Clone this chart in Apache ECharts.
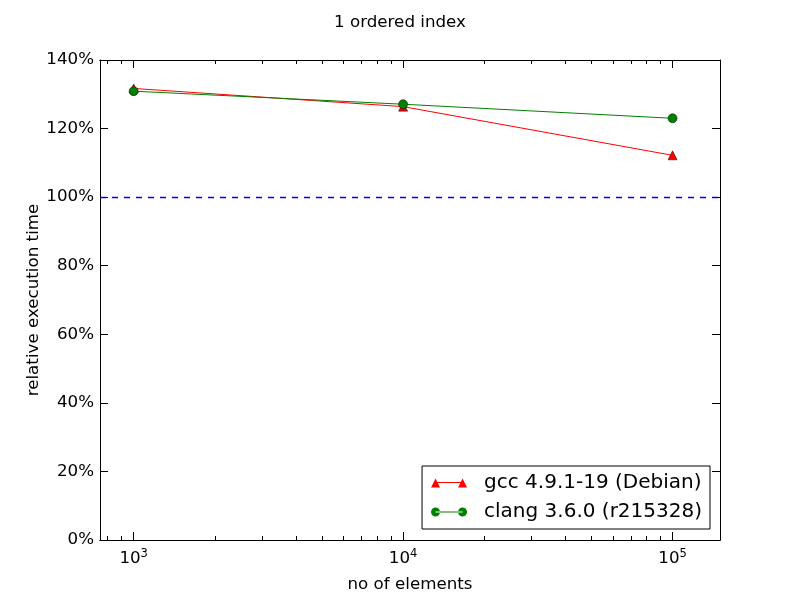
<!DOCTYPE html>
<html><head><meta charset="utf-8">
<script src="https://cdn.jsdelivr.net/npm/echarts@6/dist/echarts.min.js"></script>
<style>html,body{margin:0;padding:0;background:#fff}#c{width:800px;height:600px}</style>
</head><body><div id="c"></div>
<script>
const titleText = '1 ordered index';
const xValues = [1000, 10000, 100000];
const gccValues = [131.7, 126.4, 112.2];
const clangValues = [130.9, 127.1, 123.0];
const seriesNames = ['gcc 4.9.1-19 (Debian)', 'clang 3.6.0 (r215328)'];
const majorXTicks = [1000, 10000, 100000];
const minorXTicks = [800, 900, 2000, 3000, 4000, 5000, 6000, 7000, 8000, 9000,
  20000, 30000, 40000, 50000, 60000, 70000, 80000, 90000];
const yTickValues = [0, 20, 40, 60, 80, 100, 120, 140];
const baseline = 100;

const font = 'DejaVu Sans';
const fs = 16.7;
const xMin = 750, xMax = 150000;

function supLabel(v) {
  const e = Math.round(Math.log10(v));
  return '{b|10}{s|' + e + '}';
}
const xAxisCommon = {
  type: 'log', logBase: 10, min: xMin, max: xMax,
  splitLine: {show: false},
  axisLine: {show: true, onZero: false, lineStyle: {color: '#000', width: 1}},
  minorTick: {show: false}
};
const option = {
  animation: false,
  backgroundColor: '#fff',
  title: {text: titleText, left: 'center', top: 9,
    textStyle: {fontFamily: font, fontSize: fs, fontWeight: 'normal', color: '#000'}},
  grid: {left: 100, right: 80, top: 60, bottom: 60},
  legend: {
    right: 90, bottom: 71, orient: 'vertical',
    backgroundColor: '#fff', borderColor: '#000', borderWidth: 1,
    padding: [7, 8, 7, 9], itemGap: 9, itemWidth: 36, itemHeight: 10,
    itemStyle: {borderWidth: 0},
    textStyle: {fontFamily: font, fontSize: 20, color: '#000', padding: [0, 0, 0, 12]},
    data: [
      {name: seriesNames[0], icon: 'path://M0,10 L4.5,1 L9,10 Z M4.5,4.6 H31.5 V5.6 H4.5 Z M27,10 L31.5,1 L36,10 Z'},
      {name: seriesNames[1], icon: 'path://M0,5 A4.5,4.5 0 1 0 9,5 A4.5,4.5 0 1 0 0,5 Z M4.5,4.5 H31.5 V5.5 H4.5 Z M27,5 A4.5,4.5 0 1 0 36,5 A4.5,4.5 0 1 0 27,5 Z'}
    ]
  },
  xAxis: [
    Object.assign({}, xAxisCommon, {
      position: 'bottom', name: 'no of elements', nameLocation: 'middle', nameGap: 36,
      nameTextStyle: {fontFamily: font, fontSize: fs, color: '#000'},
      axisTick: {show: true, inside: true, length: 8, customValues: majorXTicks, lineStyle: {color: '#000'}},
      axisLabel: {show: true, customValues: majorXTicks, margin: 8, formatter: supLabel,
        rich: {b: {fontFamily: font, fontSize: fs, color: '#000'},
               s: {fontFamily: font, fontSize: 11.5, color: '#000', padding: [0, 0, 9, 0]}}}
    }),
    Object.assign({}, xAxisCommon, {
      position: 'bottom', axisLabel: {show: false},
      axisTick: {show: true, inside: true, length: 4, customValues: minorXTicks, lineStyle: {color: '#000'}}
    }),
    Object.assign({}, xAxisCommon, {
      position: 'top', axisLabel: {show: false},
      axisTick: {show: true, inside: true, length: 8, customValues: majorXTicks, lineStyle: {color: '#000'}}
    }),
    Object.assign({}, xAxisCommon, {
      position: 'top', axisLabel: {show: false},
      axisTick: {show: true, inside: true, length: 4, customValues: minorXTicks, lineStyle: {color: '#000'}}
    })
  ],
  yAxis: [
    {type: 'value', min: 0, max: 140, interval: 20, position: 'left',
      name: 'relative execution time', nameLocation: 'middle', nameGap: 58, nameMoveOverlap: false,
      nameTextStyle: {fontFamily: font, fontSize: fs, color: '#000'},
      splitLine: {show: false},
      axisLine: {show: true, onZero: false, lineStyle: {color: '#000'}},
      axisTick: {show: true, inside: true, length: 8, lineStyle: {color: '#000'}},
      axisLabel: {fontFamily: font, fontSize: fs, color: '#000', margin: 6, formatter: '{value}%'}},
    {type: 'value', min: 0, max: 140, interval: 20, position: 'right',
      splitLine: {show: false},
      axisLine: {show: true, onZero: false, lineStyle: {color: '#000'}},
      axisTick: {show: true, inside: true, length: 8, lineStyle: {color: '#000'}},
      axisLabel: {show: false}}
  ],
  series: [
    {name: seriesNames[0], type: 'line', xAxisIndex: 0, yAxisIndex: 0,
      data: xValues.map((x, i) => [x, gccValues[i]]),
      symbol: 'triangle', symbolSize: 9, showAllSymbol: true,
      lineStyle: {color: '#ff0000', width: 1},
      itemStyle: {color: '#ff0000', borderColor: '#000', borderWidth: 0.5},
      z: 2},
    {name: seriesNames[1], type: 'line', xAxisIndex: 0, yAxisIndex: 0,
      data: xValues.map((x, i) => [x, clangValues[i]]),
      symbol: 'circle', symbolSize: 9, showAllSymbol: true,
      lineStyle: {color: '#008000', width: 1},
      itemStyle: {color: '#008000', borderColor: '#000', borderWidth: 0.5},
      z: 3},
    {name: 'baseline', type: 'line', xAxisIndex: 0, yAxisIndex: 0,
      data: [], color: '#0000ff', z: 1,
      markLine: {silent: true, symbol: 'none', label: {show: false},
        lineStyle: {color: '#0000ff', type: [6, 6], width: 1.3, opacity: 1},
        itemStyle: {color: '#0000ff'},
        emphasis: {disabled: true},
        data: [{yAxis: baseline}]}}
  ]
};
const chart = echarts.init(document.getElementById('c'), null, {renderer: 'canvas'});
chart.setOption(option);
</script></body></html>
